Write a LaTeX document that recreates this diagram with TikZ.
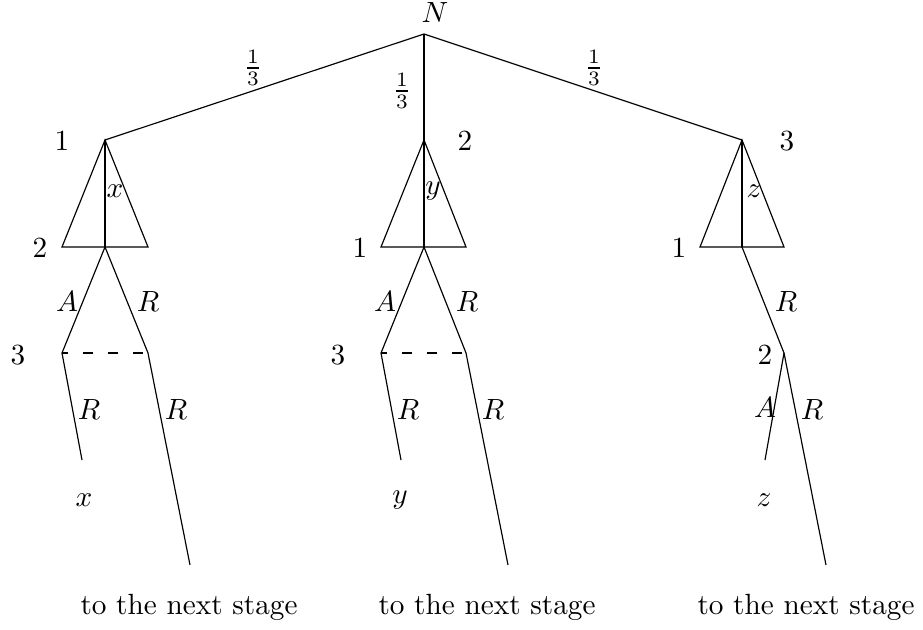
\documentclass[tikz,border=0pt]{standalone}
\begin{document}
\begin{tikzpicture}[x=0.342pt,y=-0.342pt,line width=0.4pt,
  lbl/.style={inner sep=0pt},
  info/.style={dash pattern=on 3.4pt off 5.1pt,dash phase=1.3pt}]
\useasboundingbox (0,0) rectangle (923,630);
% root
\coordinate (N) at (424,34);
% left subtree
\coordinate (L) at (105,140);
\coordinate (Lbl) at (62,247);
\coordinate (Lbr) at (148,247);
\coordinate (Lb) at (105,247);
\coordinate (LA) at (62,353);
\coordinate (LR) at (148,353);
\coordinate (LAR) at (82,460);
\coordinate (LRR) at (190,565);
% middle subtree
\coordinate (M) at (424,140);
\coordinate (Mbl) at (381,247);
\coordinate (Mbr) at (466,247);
\coordinate (Mb) at (424,247);
\coordinate (MA) at (381,353);
\coordinate (MR) at (466,353);
\coordinate (MAR) at (401,460);
\coordinate (MRR) at (508,565);
% right subtree
\coordinate (Rt) at (742,140);
\coordinate (Rbl) at (700,247);
\coordinate (Rbr) at (784,247);
\coordinate (Rb) at (742,247);
\coordinate (RR) at (784,353);
\coordinate (RRA) at (765,460);
\coordinate (RRR) at (826,565);

% edges from root
\draw (N) -- (L);
\draw (N) -- (M);
\draw (N) -- (Rt);
% triangles
\draw (L) -- (Lbl) -- (Lbr) -- cycle; \draw (L) -- (Lb);
\draw (M) -- (Mbl) -- (Mbr) -- cycle; \draw (M) -- (Mb);
\draw (Rt) -- (Rbl) -- (Rbr) -- cycle; \draw (Rt) -- (Rb);
% left branches
\draw (Lb) -- (LA); \draw (Lb) -- (LR);
\draw[info] (LA) -- (LR);
\draw (LA) -- (LAR); \draw (LR) -- (LRR);
% middle branches
\draw (Mb) -- (MA); \draw (Mb) -- (MR);
\draw[info] (MA) -- (MR);
\draw (MA) -- (MAR); \draw (MR) -- (MRR);
% right branches
\draw (Rb) -- (RR);
\draw (RR) -- (RRA); \draw (RR) -- (RRR);

% labels
\node[lbl] (tN) at (435,13) {$N$};
\node[lbl] (p1) at (253,68) {$\frac{1}{3}$};
\node[lbl] (p2) at (402,91) {$\frac{1}{3}$};
\node[lbl] (p3) at (594,68) {$\frac{1}{3}$};

\node[lbl] (l1) at (62,141) {1};
\node[lbl] (m2) at (465,141) {2};
\node[lbl] (r3) at (787,141) {3};

\node[lbl] (lx) at (115,191) {$x$};
\node[lbl] (my) at (433,191) {$y$};
\node[lbl] (rz) at (754,191) {$z$};

\node[lbl] (l2) at (40,248) {2};
\node[lbl] (m1) at (360,248) {1};
\node[lbl] (r1) at (679,248) {1};

\node[lbl] (lA) at (67,302) {$A$};
\node[lbl] (lR) at (148,302) {$R$};
\node[lbl] (mA) at (385,302) {$A$};
\node[lbl] (mR) at (467,302) {$R$};
\node[lbl] (rR) at (786,302) {$R$};

\node[lbl] (l3) at (18,355) {3};
\node[lbl] (m3) at (338,355) {3};
\node[lbl] (r2) at (765,355) {2};

\node[lbl] (lAR) at (89,410) {$R$};
\node[lbl] (lRR) at (176,410) {$R$};
\node[lbl] (mAR) at (408,410) {$R$};
\node[lbl] (mRR) at (493,410) {$R$};
\node[lbl] (rRA) at (765,408) {$A$};
\node[lbl] (rRR) at (812,410) {$R$};

\node[lbl] (ox) at (84,500) {$x$};
\node[lbl] (oy) at (400,500) {$y$};
\node[lbl] (oz) at (764,500) {$z$};

\node[lbl] (s1) at (189,607) {to the next stage};
\node[lbl] (s2) at (487,607) {to the next stage};
\node[lbl] (s3) at (806,607) {to the next stage};
\end{tikzpicture}
\end{document}
